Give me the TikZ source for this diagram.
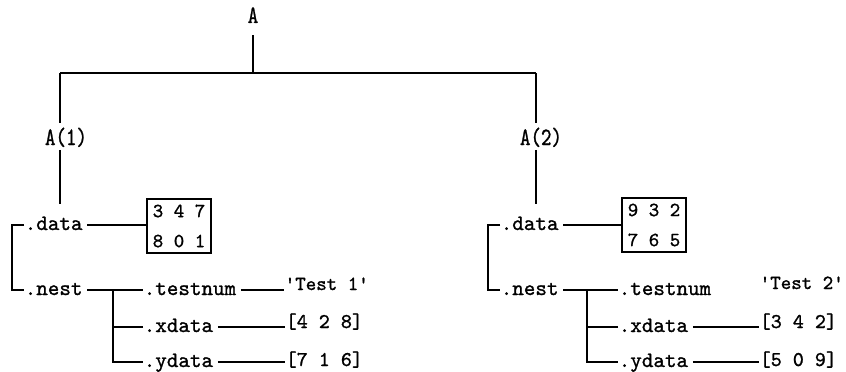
\documentclass[tikz,border=0pt]{standalone}
\usepackage{fontspec}
\usepackage{graphicx}
\newfontfamily\tmono{lmmono10-regular.otf}[FakeBold=1.2]
\newcommand\fieldfont{\fontsize{22}{26}\selectfont\tmono}
\newcommand\valfont{\fontsize{21}{30}\selectfont\tmono}
\newcommand\strfont{\fontsize{20}{30}\selectfont\tmono}
\newcommand\boxfont{\fontsize{20}{30}\selectfont\tmono}
\newcommand\toplblfont{\fontsize{20}{24}\selectfont\tmono}
\newcommand\tallify[1]{\scalebox{1}[1.25]{#1}}
\begin{document}
\begin{tikzpicture}[x=1pt,y=-1pt, line width=1.5pt,
  field/.style={font=\fieldfont, inner sep=0pt, anchor=base west},
  val/.style={font=\valfont, inner sep=0pt, anchor=base west},
  strval/.style={font=\strfont, inner sep=0pt, anchor=base west},
  mat/.style={draw, font=\boxfont, align=left, inner sep=0pt, minimum width=64pt, minimum height=54pt},
  toplbl/.style={font=\toplblfont, inner sep=0pt, anchor=base},
  gap/.style={shorten <=4pt}]
\useasboundingbox (0,0) rectangle (846,372);

% top
\node[toplbl] (A) at (253,23) {\tallify{A}};
\node[toplbl] (A1) at (66,145) {\tallify{A(1)}};
\node[toplbl] (A2) at (541,145) {\tallify{A(2)}};
\coordinate (J) at (253,73);
\coordinate (L) at (60,73);
\coordinate (R) at (536,73);
\draw[shorten <=12pt] (A.base) -- (J);
\draw (L) -- (R);
\draw[shorten >=4pt] (L) -- (L |- A1.north);
\draw[shorten >=4pt] (R) -- (R |- A2.north);

% left subtree
\node[field] (d1) at (24,230) {.data};
\node[field] (n1) at (24,295) {.nest};
\node[mat] (m1) at (179,226) {3 4 7\\8 0 1};
\draw[shorten <=2pt, shorten >=12pt] (L |- A1.south) -- (L |- d1.north);
\draw ([yshift=5pt]d1.base west) -- ++(-12,0) |- ([yshift=5pt]n1.base west);
\draw[gap] ([yshift=5pt]d1.base east) -- ([yshift=5pt]d1.base east -| m1.west);
\node[field] (t1) at (143,295) {.testnum};
\node[field] (x1) at (143,332) {.xdata};
\node[field] (y1) at (143,367) {.ydata};
\draw[gap] ([yshift=5pt]n1.base east) -- ([yshift=5pt]t1.base west);
\draw ([yshift=5pt]t1.base west) ++(-30,0) |- ([yshift=5pt]y1.base west);
\draw ([yshift=5pt]x1.base west) -- ++(-30,0);
\node[strval] (tv1) at (284,290) {\textquotesingle Test 1\textquotesingle};
\node[val] (xv1) at (285,328) {[4 2 8]};
\node[val] (yv1) at (285,366) {[7 1 6]};
\draw[gap] ([yshift=5pt]t1.base east) -- ([yshift=5pt]t1.base east -| tv1.west);
\draw[gap] ([yshift=5pt]x1.base east) -- ([yshift=5pt]x1.base east -| xv1.west);
\draw[gap] ([yshift=5pt]y1.base east) -- ([yshift=5pt]y1.base east -| yv1.west);

% right subtree
\node[field] (d2) at (500,230) {.data};
\node[field] (n2) at (500,295) {.nest};
\node[mat] (m2) at (654,225) {9 3 2\\7 6 5};
\draw[shorten <=2pt, shorten >=12pt] (R |- A2.south) -- (R |- d2.north);
\draw ([yshift=5pt]d2.base west) -- ++(-12,0) |- ([yshift=5pt]n2.base west);
\draw[gap] ([yshift=5pt]d2.base east) -- ([yshift=5pt]d2.base east -| m2.west);
\node[field] (t2) at (618,295) {.testnum};
\node[field] (x2) at (618,332) {.xdata};
\node[field] (y2) at (618,367) {.ydata};
\draw[gap] ([yshift=5pt]n2.base east) -- ([yshift=5pt]t2.base west);
\draw ([yshift=5pt]t2.base west) ++(-31,0) |- ([yshift=5pt]y2.base west);
\draw ([yshift=5pt]x2.base west) -- ++(-31,0);
\node[strval] (tv2) at (759,289) {\textquotesingle Test 2\textquotesingle};
\node[val] (xv2) at (759,328) {[3 4 2]};
\node[val] (yv2) at (759,366) {[5 0 9]};
\draw[gap] ([yshift=5pt]x2.base east) -- ([yshift=5pt]x2.base east -| xv2.west);
\draw[gap] ([yshift=5pt]y2.base east) -- ([yshift=5pt]y2.base east -| yv2.west);
\end{tikzpicture}
\end{document}
